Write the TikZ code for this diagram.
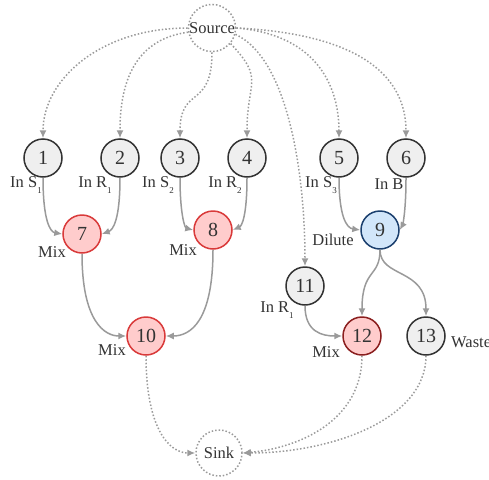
\documentclass[tikz,border=0pt]{standalone}
\usepackage{fontspec}
\setmainfont{Liberation Serif}
\usetikzlibrary{arrows.meta}
\definecolor{edgegray}{HTML}{9A9A9A}
\definecolor{nodegray}{HTML}{EFEFEF}
\definecolor{nodeborder}{HTML}{333333}
\definecolor{mixfill}{HTML}{FFCCCC}
\definecolor{mixborder}{HTML}{D93A3A}
\definecolor{mixdark}{HTML}{8B1F1F}
\definecolor{dilfill}{HTML}{D2E6FA}
\definecolor{dilborder}{HTML}{1B3F6E}
\definecolor{txt}{HTML}{333333}
\newcommand{\lsub}[1]{\raisebox{-0.35em}{\fontsize{9}{9}\selectfont #1}}
\begin{document}
\begin{tikzpicture}[x=1pt,y=-1pt,
  numnode/.style={circle,draw=nodeborder,fill=nodegray,line width=1.5pt,minimum size=38pt,inner sep=0pt,font=\fontsize{20}{20}\selectfont,text=txt},
  mixnode/.style={numnode,fill=mixfill,draw=mixborder},
  mixdarknode/.style={numnode,fill=mixfill,draw=mixdark},
  dilnode/.style={numnode,fill=dilfill,draw=dilborder},
  termnode/.style={circle,draw=edgegray,dotted,line width=1.5pt,minimum size=46pt,inner sep=0pt,font=\fontsize{16.5}{16.5}\selectfont,text=txt},
  lbl/.style={font=\fontsize{16.5}{16.5}\selectfont,text=txt,inner sep=0pt},
  flow/.style={draw=edgegray,line width=1.5pt,-{Latex[length=8pt,width=7pt]}},
  feed/.style={draw=edgegray,line width=1.5pt,dotted,-{Latex[length=8pt,width=7pt]}}
]
\useasboundingbox (0,0) rectangle (489,479);
\node[termnode] (src) at (212,28) {Source};
\node[termnode] (snk) at (219,453) {Sink};
\node[numnode] (n1) at (43,158) {1};
\node[numnode] (n2) at (120,158) {2};
\node[numnode] (n3) at (180,158) {3};
\node[numnode] (n4) at (247,158) {4};
\node[numnode] (n5) at (339,158) {5};
\node[numnode] (n6) at (406,158) {6};
\node[mixnode] (n7) at (82,234) {7};
\node[mixnode] (n8) at (213,230) {8};
\node[dilnode] (n9) at (380,230) {9};
\node[numnode] (n11) at (305,286) {11};
\node[mixnode] (n10) at (146,336) {10};
\node[mixdarknode] (n12) at (362,336) {12};
\node[numnode] (n13) at (426,336) {13};
% labels
\node[lbl] (l1) at (26,185) {In S\lsub{1}};
\node[lbl] (l2) at (95,185) {In R\lsub{1}};
\node[lbl] (l3) at (158,185) {In S\lsub{2}};
\node[lbl] (l4) at (225,185) {In R\lsub{2}};
\node[lbl] (l5) at (321,185) {In S\lsub{3}};
\node[lbl] (l6) at (389,184) {In B};
\node[lbl] (l7) at (52,252) {Mix};
\node[lbl] (l8) at (183,250) {Mix};
\node[lbl] (l9) at (333,240) {Dilute};
\node[lbl] (l11) at (277,310) {In R\lsub{1}};
\node[lbl] (l10) at (112,350) {Mix};
\node[lbl] (l12) at (326,352) {Mix};
\node[lbl,anchor=west] (l13) at (451,342) {Waste};
% source feeds
\draw[feed] (src.west) .. controls (100,28) and (43,80) .. (n1.north);
\draw[feed] (src.190) .. controls (130,40) and (120,90) .. (n2.north);
\draw[feed] (src.south) .. controls (212,110) and (180,85) .. (n3.north);
\draw[feed] (src.-40) .. controls (265,80) and (247,80) .. (n4.north);
\draw[feed] (src.-15) .. controls (290,60) and (305,180) .. (n11.north);
\draw[feed] (src.east) .. controls (320,35) and (339,90) .. (n5.north);
\draw[feed] (src.east) .. controls (380,35) and (406,90) .. (n6.north);
% flows
\draw[flow] (n1.south) .. controls (43,220) and (50,232) .. (n7.west);
\draw[flow] (n2.south) .. controls (120,220) and (113,230) .. (n7.east);
\draw[flow] (n3.south) .. controls (180,215) and (185,228) .. (n8.west);
\draw[flow] (n4.south) .. controls (247,215) and (242,226) .. (n8.east);
\draw[flow] (n5.south) .. controls (339,215) and (346,228) .. (n9.west);
\draw[flow] (n6.south) .. controls (406,215) and (402,226) .. (n9.east);
\draw[flow] (n7.south) .. controls (82,322) and (105,336) .. (n10.west);
\draw[flow] (n8.south) .. controls (213,322) and (190,336) .. (n10.east);
\draw[flow] (n9.south) .. controls (380,278) and (362,268) .. (n12.north);
\draw[flow] (n9.south) .. controls (380,278) and (426,268) .. (n13.north);
\draw[flow] (n11.south) .. controls (305,332) and (322,336) .. (n12.west);
% to sink
\draw[feed] (n10.south) .. controls (146,430) and (170,453) .. (snk.west);
\draw[feed] (n12.south) .. controls (362,420) and (300,448) .. (snk.east);
\draw[feed] (n13.south) .. controls (426,420) and (330,453) .. (snk.east);
\end{tikzpicture}
\end{document}
